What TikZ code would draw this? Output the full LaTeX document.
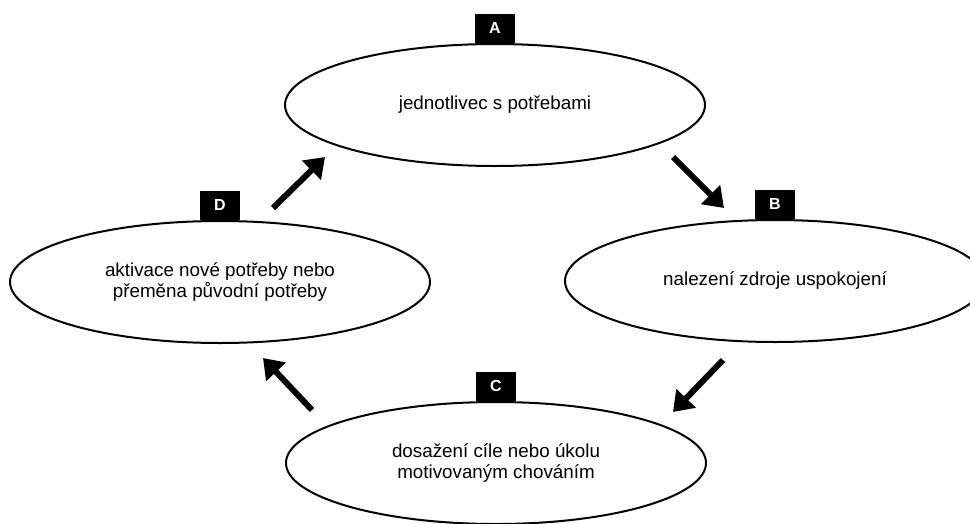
\documentclass[tikz,border=0pt]{standalone}
\usepackage{fontspec}
\setmainfont{Liberation Sans}
\usetikzlibrary{positioning,shapes.geometric,arrows.meta}

\begin{document}
\begin{tikzpicture}[x=1pt, y=-1pt,
  stage/.style={draw, ellipse, line width=2pt, minimum width=420pt, minimum height=122pt,
    inner sep=0pt, align=center, font=\fontsize{18.8}{21.7}\selectfont},
  tag/.style={fill=black, text=white, font=\fontsize{16}{16}\selectfont\bfseries,
    minimum width=40pt, minimum height=29pt, inner sep=0pt},
  cycle arrow/.style={line width=6pt, -{Triangle[length=19pt, width=26pt]}}]
\useasboundingbox (0,0) rectangle (970,523);

\node[stage] (indiv)   at (495,105) {jednotlivec s potřebami};
\node[stage] (source)  at (775,281) {nalezení zdroje uspokojení};
\node[stage] (goal)    at (496,463) {dosažení cíle nebo úkolu\\motivovaným chováním};
\node[stage] (newneed) at (220,282) {aktivace nové potřeby nebo\\přeměna původní potřeby};

\node[tag, above=0pt of indiv.north]   (tagA) {A};
\node[tag, above=0pt of source.north]  (tagB) {B};
\node[tag, above=0pt of goal.north]    (tagC) {C};
\node[tag, above=0pt of newneed.north] (tagD) {D};

% arrow ends
\coordinate (ab0) at (673,157);
\coordinate (ab1) at (724,208);
\coordinate (bc0) at (723,360);
\coordinate (bc1) at (673,412);
\coordinate (cd0) at (312,410);
\coordinate (cd1) at (263,358);
\coordinate (da0) at (273,208);
\coordinate (da1) at (325,157);

\path[cycle arrow]
(ab0) edge (ab1)
(bc0) edge (bc1)
(cd0) edge (cd1)
(da0) edge (da1)
;
\end{tikzpicture}
\end{document}
